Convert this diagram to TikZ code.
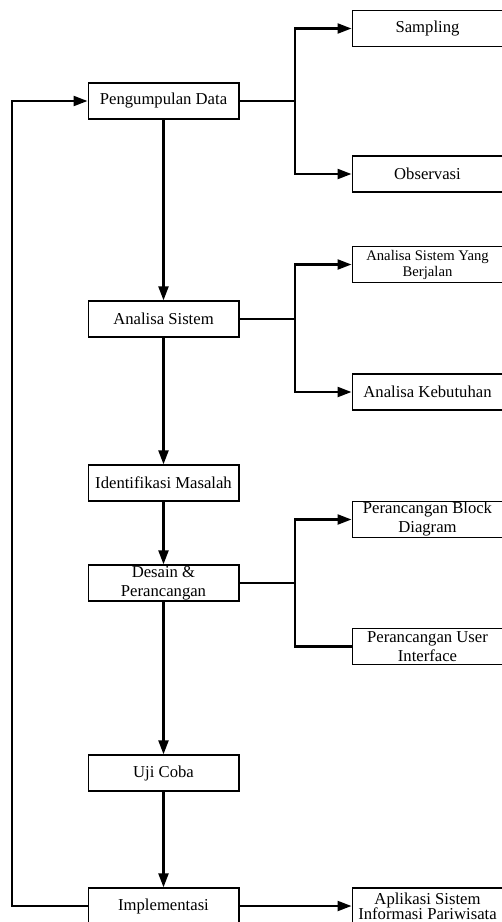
\documentclass[tikz,border=0pt]{standalone}
\usepackage{fontspec}
\setmainfont{Liberation Serif}
\usetikzlibrary{positioning,arrows.meta,shapes}

\tikzset{
  tahap/.style={draw, line width=1pt, minimum width=113pt, minimum height=27pt,
    inner xsep=1pt, inner ysep=0pt, align=center, font=\fontsize{12.5}{14.25}\selectfont},
  kecil/.style={font=\fontsize{11}{12}\selectfont},
  rapat/.style={font=\fontsize{12.5}{12.5}\selectfont},
  alur/.style={line width=1.7pt},
  panah/.style={alur, -{Triangle[length=10.5pt,width=7.5pt]}},
}

\begin{document}
\begin{tikzpicture}[x=0.75pt,y=-0.75pt]
\useasboundingbox (0,0) rectangle (501,922);
% tahapan utama
\node[tahap] (kumpul) at (163.5,101) {Pengumpulan Data};
\node[tahap] (analisa) at (163.5,319) {Analisa Sistem};
\node[tahap] (identifikasi) at (163.5,483) {Identifikasi Masalah};
\node[tahap] (desain) at (163.5,583) {Desain \&\\Perancangan};
\node[tahap] (uji) at (163.5,773) {Uji Coba};
\node[tahap] (implementasi) at (163.5,906) {Implementasi};
% hasil tiap tahap
\node[tahap] (sampling) at (427.5,28.5) {Sampling};
\node[tahap] (observasi) at (427.5,174) {Observasi};
\node[tahap,kecil] (berjalan) at (427.5,264.5) {Analisa Sistem Yang\\Berjalan};
\node[tahap] (kebutuhan) at (427.5,392) {Analisa Kebutuhan};
\node[tahap] (blok) at (427.5,519.5) {Perancangan Block\\Diagram};
\node[tahap] (ui) at (427.5,646.5) {Perancangan User\\Interface};
\node[tahap,rapat] (aplikasi) at (427.5,906) {Aplikasi Sistem\\[-1pt]Informasi Pariwisata};
% titik cabang
\coordinate (cabang1) at (295,101);
\coordinate (cabang2) at (295,319);
\coordinate (cabang3) at (295,583);
\coordinate (balik) at (12,906);
% alur utama
\draw[panah] (kumpul) -- (analisa);
\draw[panah] (analisa) -- (identifikasi);
\draw[panah] (identifikasi) -- (desain);
\draw[panah] (desain) -- (uji);
\draw[panah] (uji) -- (implementasi);
\draw[panah] (implementasi) -- (aplikasi);
\draw[panah] (implementasi) -- (balik) |- (kumpul);
% cabang
\draw[alur] (kumpul) -- (cabang1);
\draw[panah] (cabang1) |- (sampling);
\draw[panah] (cabang1) |- (observasi);
\draw[alur] (analisa) -- (cabang2);
\draw[panah] (cabang2) |- (berjalan);
\draw[panah] (cabang2) |- (kebutuhan);
\draw[alur] (desain) -- (cabang3);
\draw[panah] (cabang3) |- (blok);
\draw[alur] (cabang3) |- (ui);
\end{tikzpicture}
\end{document}
